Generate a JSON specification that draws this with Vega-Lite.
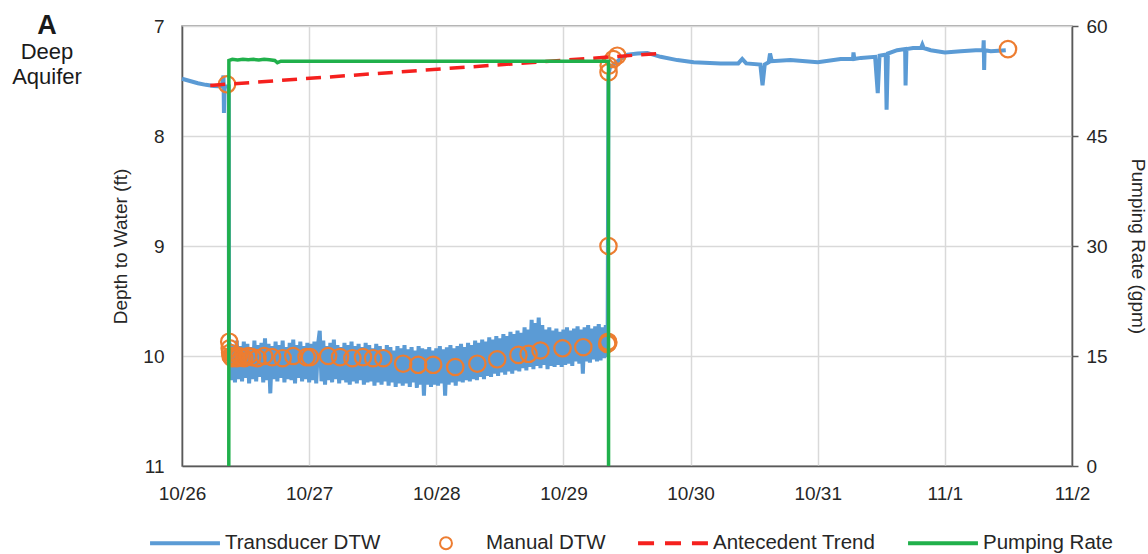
{
  "$schema": "https://vega.github.io/schema/vega-lite/v6.json",
  "width": 890,
  "height": 440,
  "autosize": "none",
  "padding": {"left": 182, "top": 26, "right": 76, "bottom": 88},
  "background": "white",
  "title": {
    "text": "A",
    "subtitle": ["Deep", "Aquifer"],
    "anchor": "start",
    "frame": "group",
    "align": "center",
    "dx": -135,
    "dy": 72,
    "offset": 0,
    "font": "Liberation Sans",
    "fontSize": 27,
    "fontWeight": "bold",
    "color": "#1a1a1a",
    "subtitleFont": "Liberation Sans",
    "subtitleFontSize": 22,
    "subtitleColor": "#1a1a1a",
    "subtitlePadding": 2,
    "subtitleLineHeight": 25
  },
  "layer": [
    {
      "layer": [
        {
          "data": {"values": [
            {"t": "2018-10-26T00:00", "d": 7.48},
            {"t": "2018-10-26T01:30", "d": 7.5},
            {"t": "2018-10-26T03:00", "d": 7.52},
            {"t": "2018-10-26T04:30", "d": 7.535},
            {"t": "2018-10-26T06:00", "d": 7.545},
            {"t": "2018-10-26T07:30", "d": 7.55},
            {"t": "2018-10-26T07:50", "d": 7.45},
            {"t": "2018-10-26T07:55", "d": 7.79},
            {"t": "2018-10-26T08:00", "d": 7.55},
            {"t": "2018-10-26T08:49", "d": 7.55},
            {"t": "2018-10-26T08:52", "d": 9.95},
            {"t": "2018-10-26T09:00", "d": 9.88},
            {"t": "2018-10-26T09:20", "d": 10.22},
            {"t": "2018-10-26T09:40", "d": 9.9},
            {"t": "2018-10-26T10:00", "d": 10.24},
            {"t": "2018-10-26T10:20", "d": 9.86},
            {"t": "2018-10-26T10:40", "d": 10.21},
            {"t": "2018-10-26T11:00", "d": 9.91},
            {"t": "2018-10-26T11:20", "d": 10.23},
            {"t": "2018-10-26T11:40", "d": 9.87},
            {"t": "2018-10-26T12:00", "d": 10.2},
            {"t": "2018-10-26T12:20", "d": 9.89},
            {"t": "2018-10-26T12:40", "d": 10.25},
            {"t": "2018-10-26T13:00", "d": 9.92},
            {"t": "2018-10-26T13:20", "d": 10.21},
            {"t": "2018-10-26T13:40", "d": 9.86},
            {"t": "2018-10-26T14:00", "d": 10.23},
            {"t": "2018-10-26T14:20", "d": 9.9},
            {"t": "2018-10-26T14:40", "d": 10.19},
            {"t": "2018-10-26T15:00", "d": 9.88},
            {"t": "2018-10-26T15:20", "d": 10.24},
            {"t": "2018-10-26T15:40", "d": 9.84},
            {"t": "2018-10-26T16:00", "d": 10.22},
            {"t": "2018-10-26T16:20", "d": 9.89},
            {"t": "2018-10-26T16:40", "d": 10.34},
            {"t": "2018-10-26T17:00", "d": 9.91},
            {"t": "2018-10-26T17:20", "d": 10.21},
            {"t": "2018-10-26T17:40", "d": 9.87},
            {"t": "2018-10-26T18:00", "d": 10.23},
            {"t": "2018-10-26T18:20", "d": 9.9},
            {"t": "2018-10-26T18:40", "d": 10.2},
            {"t": "2018-10-26T19:00", "d": 9.86},
            {"t": "2018-10-26T19:20", "d": 10.24},
            {"t": "2018-10-26T19:40", "d": 9.92},
            {"t": "2018-10-26T20:00", "d": 10.21},
            {"t": "2018-10-26T20:20", "d": 9.88},
            {"t": "2018-10-26T20:40", "d": 10.22},
            {"t": "2018-10-26T21:00", "d": 9.85},
            {"t": "2018-10-26T21:20", "d": 10.25},
            {"t": "2018-10-26T21:40", "d": 9.9},
            {"t": "2018-10-26T22:00", "d": 10.2},
            {"t": "2018-10-26T22:20", "d": 9.87},
            {"t": "2018-10-26T22:40", "d": 10.23},
            {"t": "2018-10-26T23:00", "d": 9.91},
            {"t": "2018-10-26T23:20", "d": 10.21},
            {"t": "2018-10-26T23:40", "d": 9.88},
            {"t": "2018-10-27T00:00", "d": 10.24},
            {"t": "2018-10-27T00:20", "d": 9.89},
            {"t": "2018-10-27T00:40", "d": 10.22},
            {"t": "2018-10-27T01:00", "d": 9.87},
            {"t": "2018-10-27T01:20", "d": 10.25},
            {"t": "2018-10-27T01:40", "d": 9.9},
            {"t": "2018-10-27T02:00", "d": 9.77},
            {"t": "2018-10-27T02:20", "d": 10.23},
            {"t": "2018-10-27T02:40", "d": 9.86},
            {"t": "2018-10-27T03:00", "d": 10.26},
            {"t": "2018-10-27T03:20", "d": 9.91},
            {"t": "2018-10-27T03:40", "d": 10.22},
            {"t": "2018-10-27T04:00", "d": 9.88},
            {"t": "2018-10-27T04:20", "d": 10.24},
            {"t": "2018-10-27T04:40", "d": 9.85},
            {"t": "2018-10-27T05:00", "d": 10.21},
            {"t": "2018-10-27T05:20", "d": 9.9},
            {"t": "2018-10-27T05:40", "d": 10.25},
            {"t": "2018-10-27T06:00", "d": 9.92},
            {"t": "2018-10-27T06:20", "d": 10.22},
            {"t": "2018-10-27T06:40", "d": 9.88},
            {"t": "2018-10-27T07:00", "d": 10.24},
            {"t": "2018-10-27T07:20", "d": 9.9},
            {"t": "2018-10-27T07:40", "d": 10.26},
            {"t": "2018-10-27T08:00", "d": 9.87},
            {"t": "2018-10-27T08:20", "d": 10.23},
            {"t": "2018-10-27T08:40", "d": 9.91},
            {"t": "2018-10-27T09:00", "d": 10.25},
            {"t": "2018-10-27T09:20", "d": 9.89},
            {"t": "2018-10-27T09:40", "d": 10.22},
            {"t": "2018-10-27T10:00", "d": 9.92},
            {"t": "2018-10-27T10:20", "d": 10.26},
            {"t": "2018-10-27T10:40", "d": 9.88},
            {"t": "2018-10-27T11:00", "d": 10.24},
            {"t": "2018-10-27T11:20", "d": 9.9},
            {"t": "2018-10-27T11:40", "d": 10.23},
            {"t": "2018-10-27T12:00", "d": 9.93},
            {"t": "2018-10-27T12:20", "d": 10.27},
            {"t": "2018-10-27T12:40", "d": 9.89},
            {"t": "2018-10-27T13:00", "d": 10.24},
            {"t": "2018-10-27T13:20", "d": 9.91},
            {"t": "2018-10-27T13:40", "d": 10.26},
            {"t": "2018-10-27T14:00", "d": 9.94},
            {"t": "2018-10-27T14:20", "d": 10.23},
            {"t": "2018-10-27T14:40", "d": 9.9},
            {"t": "2018-10-27T15:00", "d": 10.27},
            {"t": "2018-10-27T15:20", "d": 9.92},
            {"t": "2018-10-27T15:40", "d": 10.24},
            {"t": "2018-10-27T16:00", "d": 9.95},
            {"t": "2018-10-27T16:20", "d": 10.28},
            {"t": "2018-10-27T16:40", "d": 9.91},
            {"t": "2018-10-27T17:00", "d": 10.25},
            {"t": "2018-10-27T17:20", "d": 9.93},
            {"t": "2018-10-27T17:40", "d": 10.27},
            {"t": "2018-10-27T18:00", "d": 9.9},
            {"t": "2018-10-27T18:20", "d": 10.25},
            {"t": "2018-10-27T18:40", "d": 9.94},
            {"t": "2018-10-27T19:00", "d": 10.28},
            {"t": "2018-10-27T19:20", "d": 9.92},
            {"t": "2018-10-27T19:40", "d": 10.24},
            {"t": "2018-10-27T20:00", "d": 9.95},
            {"t": "2018-10-27T20:20", "d": 10.29},
            {"t": "2018-10-27T20:40", "d": 9.91},
            {"t": "2018-10-27T21:00", "d": 10.26},
            {"t": "2018-10-27T21:20", "d": 9.93},
            {"t": "2018-10-27T21:40", "d": 10.36},
            {"t": "2018-10-27T22:00", "d": 9.94},
            {"t": "2018-10-27T22:20", "d": 10.26},
            {"t": "2018-10-27T22:40", "d": 9.92},
            {"t": "2018-10-27T23:00", "d": 10.28},
            {"t": "2018-10-27T23:20", "d": 9.95},
            {"t": "2018-10-27T23:40", "d": 10.26},
            {"t": "2018-10-28T00:00", "d": 9.93},
            {"t": "2018-10-28T00:20", "d": 10.27},
            {"t": "2018-10-28T00:40", "d": 9.91},
            {"t": "2018-10-28T01:00", "d": 10.25},
            {"t": "2018-10-28T01:20", "d": 9.94},
            {"t": "2018-10-28T01:40", "d": 10.36},
            {"t": "2018-10-28T02:00", "d": 9.92},
            {"t": "2018-10-28T02:20", "d": 10.26},
            {"t": "2018-10-28T02:40", "d": 9.9},
            {"t": "2018-10-28T03:00", "d": 10.24},
            {"t": "2018-10-28T03:20", "d": 9.93},
            {"t": "2018-10-28T03:40", "d": 10.27},
            {"t": "2018-10-28T04:00", "d": 9.91},
            {"t": "2018-10-28T04:20", "d": 10.23},
            {"t": "2018-10-28T04:40", "d": 9.89},
            {"t": "2018-10-28T05:00", "d": 10.24},
            {"t": "2018-10-28T05:20", "d": 9.92},
            {"t": "2018-10-28T05:40", "d": 10.22},
            {"t": "2018-10-28T06:00", "d": 9.88},
            {"t": "2018-10-28T06:20", "d": 10.23},
            {"t": "2018-10-28T06:40", "d": 9.9},
            {"t": "2018-10-28T07:00", "d": 10.21},
            {"t": "2018-10-28T07:20", "d": 9.86},
            {"t": "2018-10-28T07:40", "d": 10.22},
            {"t": "2018-10-28T08:00", "d": 9.88},
            {"t": "2018-10-28T08:20", "d": 10.19},
            {"t": "2018-10-28T08:40", "d": 9.85},
            {"t": "2018-10-28T09:00", "d": 10.21},
            {"t": "2018-10-28T09:20", "d": 9.87},
            {"t": "2018-10-28T09:40", "d": 10.18},
            {"t": "2018-10-28T10:00", "d": 9.83},
            {"t": "2018-10-28T10:20", "d": 10.19},
            {"t": "2018-10-28T10:40", "d": 9.85},
            {"t": "2018-10-28T11:00", "d": 10.16},
            {"t": "2018-10-28T11:20", "d": 9.82},
            {"t": "2018-10-28T11:40", "d": 10.18},
            {"t": "2018-10-28T12:00", "d": 9.84},
            {"t": "2018-10-28T12:20", "d": 10.15},
            {"t": "2018-10-28T12:40", "d": 9.8},
            {"t": "2018-10-28T13:00", "d": 10.17},
            {"t": "2018-10-28T13:20", "d": 9.82},
            {"t": "2018-10-28T13:40", "d": 10.14},
            {"t": "2018-10-28T14:00", "d": 9.78},
            {"t": "2018-10-28T14:20", "d": 10.16},
            {"t": "2018-10-28T14:40", "d": 9.8},
            {"t": "2018-10-28T15:00", "d": 10.13},
            {"t": "2018-10-28T15:20", "d": 9.77},
            {"t": "2018-10-28T15:40", "d": 10.14},
            {"t": "2018-10-28T16:00", "d": 9.79},
            {"t": "2018-10-28T16:20", "d": 10.11},
            {"t": "2018-10-28T16:40", "d": 9.74},
            {"t": "2018-10-28T17:00", "d": 10.13},
            {"t": "2018-10-28T17:20", "d": 9.76},
            {"t": "2018-10-28T17:40", "d": 10.1},
            {"t": "2018-10-28T18:00", "d": 9.67},
            {"t": "2018-10-28T18:20", "d": 10.12},
            {"t": "2018-10-28T18:40", "d": 9.7},
            {"t": "2018-10-28T19:00", "d": 10.09},
            {"t": "2018-10-28T19:20", "d": 9.65},
            {"t": "2018-10-28T19:40", "d": 10.11},
            {"t": "2018-10-28T20:00", "d": 9.72},
            {"t": "2018-10-28T20:20", "d": 10.08},
            {"t": "2018-10-28T20:40", "d": 9.76},
            {"t": "2018-10-28T21:00", "d": 10.12},
            {"t": "2018-10-28T21:20", "d": 9.74},
            {"t": "2018-10-28T21:40", "d": 10.09},
            {"t": "2018-10-28T22:00", "d": 9.77},
            {"t": "2018-10-28T22:20", "d": 10.1},
            {"t": "2018-10-28T22:40", "d": 9.75},
            {"t": "2018-10-28T23:00", "d": 10.08},
            {"t": "2018-10-28T23:20", "d": 9.78},
            {"t": "2018-10-28T23:40", "d": 10.1},
            {"t": "2018-10-29T00:00", "d": 9.76},
            {"t": "2018-10-29T00:20", "d": 10.08},
            {"t": "2018-10-29T00:40", "d": 9.74},
            {"t": "2018-10-29T01:00", "d": 10.07},
            {"t": "2018-10-29T01:20", "d": 9.77},
            {"t": "2018-10-29T01:40", "d": 10.09},
            {"t": "2018-10-29T02:00", "d": 9.75},
            {"t": "2018-10-29T02:20", "d": 10.05},
            {"t": "2018-10-29T02:40", "d": 9.73},
            {"t": "2018-10-29T03:00", "d": 10.07},
            {"t": "2018-10-29T03:20", "d": 9.76},
            {"t": "2018-10-29T03:40", "d": 10.16},
            {"t": "2018-10-29T04:00", "d": 9.74},
            {"t": "2018-10-29T04:20", "d": 10.05},
            {"t": "2018-10-29T04:40", "d": 9.72},
            {"t": "2018-10-29T05:00", "d": 10.06},
            {"t": "2018-10-29T05:20", "d": 9.75},
            {"t": "2018-10-29T05:40", "d": 10.03},
            {"t": "2018-10-29T06:00", "d": 9.73},
            {"t": "2018-10-29T06:20", "d": 10.05},
            {"t": "2018-10-29T06:40", "d": 9.71},
            {"t": "2018-10-29T07:00", "d": 10.04},
            {"t": "2018-10-29T07:20", "d": 9.74},
            {"t": "2018-10-29T07:40", "d": 10.02},
            {"t": "2018-10-29T08:00", "d": 9.72},
            {"t": "2018-10-29T08:20", "d": 10.01},
            {"t": "2018-10-29T08:30", "d": 7.45},
            {"t": "2018-10-29T08:45", "d": 7.38},
            {"t": "2018-10-29T09:15", "d": 7.36},
            {"t": "2018-10-29T10:45", "d": 7.3},
            {"t": "2018-10-29T12:05", "d": 7.26},
            {"t": "2018-10-29T14:00", "d": 7.25},
            {"t": "2018-10-29T15:50", "d": 7.245},
            {"t": "2018-10-29T18:20", "d": 7.28},
            {"t": "2018-10-29T21:30", "d": 7.31},
            {"t": "2018-10-30T00:35", "d": 7.33},
            {"t": "2018-10-30T05:40", "d": 7.34},
            {"t": "2018-10-30T09:00", "d": 7.34},
            {"t": "2018-10-30T09:45", "d": 7.3},
            {"t": "2018-10-30T10:30", "d": 7.34},
            {"t": "2018-10-30T13:10", "d": 7.35},
            {"t": "2018-10-30T13:35", "d": 7.54},
            {"t": "2018-10-30T14:00", "d": 7.35},
            {"t": "2018-10-30T14:45", "d": 7.33},
            {"t": "2018-10-30T15:00", "d": 7.25},
            {"t": "2018-10-30T15:20", "d": 7.32},
            {"t": "2018-10-30T18:50", "d": 7.31},
            {"t": "2018-10-31T00:00", "d": 7.33},
            {"t": "2018-10-31T04:20", "d": 7.3},
            {"t": "2018-10-31T06:40", "d": 7.3},
            {"t": "2018-10-31T06:45", "d": 7.24},
            {"t": "2018-10-31T06:55", "d": 7.3},
            {"t": "2018-10-31T08:10", "d": 7.29},
            {"t": "2018-10-31T10:50", "d": 7.28},
            {"t": "2018-10-31T11:20", "d": 7.61},
            {"t": "2018-10-31T11:40", "d": 7.27},
            {"t": "2018-10-31T12:50", "d": 7.26},
            {"t": "2018-10-31T13:00", "d": 7.76},
            {"t": "2018-10-31T13:15", "d": 7.25},
            {"t": "2018-10-31T15:00", "d": 7.22},
            {"t": "2018-10-31T16:30", "d": 7.21},
            {"t": "2018-10-31T16:35", "d": 7.54},
            {"t": "2018-10-31T16:45", "d": 7.21},
            {"t": "2018-10-31T18:00", "d": 7.2},
            {"t": "2018-10-31T19:30", "d": 7.2},
            {"t": "2018-10-31T19:45", "d": 7.17},
            {"t": "2018-10-31T20:00", "d": 7.2},
            {"t": "2018-10-31T21:20", "d": 7.22},
            {"t": "2018-11-01T00:00", "d": 7.24},
            {"t": "2018-11-01T03:00", "d": 7.23},
            {"t": "2018-11-01T05:50", "d": 7.22},
            {"t": "2018-11-01T07:15", "d": 7.22},
            {"t": "2018-11-01T07:20", "d": 7.13},
            {"t": "2018-11-01T07:25", "d": 7.4},
            {"t": "2018-11-01T07:30", "d": 7.22},
            {"t": "2018-11-01T08:40", "d": 7.23},
            {"t": "2018-11-01T11:30", "d": 7.22}
          ]},
          "mark": {"type": "line", "strokeWidth": 4},
          "encoding": {
            "x": {
              "field": "t",
              "type": "temporal",
              "scale": {"domain": [{"year": 2018, "month": "oct", "date": 26}, {"year": 2018, "month": "nov", "date": 2}], "nice": false},
              "axis": {"title": null, "format": "%-m/%-d", "tickCount": {"interval": "day", "step": 1}, "ticks": false, "labelPadding": 18, "labelFlush": false, "labelOverlap": false, "grid": true}
            },
            "y": {
              "field": "d",
              "type": "quantitative",
              "scale": {"domain": [7, 11], "reverse": true, "nice": false, "zero": false},
              "axis": {"title": "Depth to Water (ft)", "values": [7, 8, 9, 10, 11], "format": "d", "ticks": false, "labelPadding": 18, "titlePadding": 12, "grid": true}
            },
            "color": {
              "datum": "Transducer DTW",
              "type": "nominal",
              "scale": {"domain": ["Transducer DTW", "Manual DTW", "Antecedent Trend", "Pumping Rate"], "range": ["#5b9bd5", "#ed7d31", "#f5201e", "#20b04b"]},
              "legend": {
                "orient": "none",
                "legendX": -33,
                "legendY": 481,
                "direction": "horizontal",
                "title": null,
                "padding": 0,
                "symbolSize": 4900,
                "symbolStrokeWidth": 2,
                "labelFontSize": 20.5,
                "labelFont": "Liberation Sans",
                "labelColor": "#262626",
                "labelLimit": 300,
                "columnPadding": 29,
                "encode": {
                  "symbols": {
                    "update": {
                      "shape": {"signal": "datum.value === 'Manual DTW' ? 'M0.17,0A0.17,0.17,0,1,1,-0.17,0A0.17,0.17,0,1,1,0.17,0Z' : datum.value === 'Antecedent Trend' ? 'M-0.97,-0.03L-0.57,-0.03L-0.57,0.03L-0.97,0.03ZM-0.2,-0.03L0.2,-0.03L0.2,0.03L-0.2,0.03ZM0.57,-0.03L0.97,-0.03L0.97,0.03L0.57,0.03Z' : 'M-0.97,-0.03L0.97,-0.03L0.97,0.03L-0.97,0.03Z'"},
                      "fill": {"signal": "datum.value === 'Transducer DTW' ? '#5b9bd5' : datum.value === 'Antecedent Trend' ? '#f5201e' : datum.value === 'Pumping Rate' ? '#20b04b' : 'transparent'"},
                      "stroke": {"signal": "datum.value === 'Transducer DTW' ? '#5b9bd5' : datum.value === 'Antecedent Trend' ? '#f5201e' : datum.value === 'Pumping Rate' ? '#20b04b' : '#ed7d31'"},
                      "opacity": {"value": 1}
                    }
                  }
                }
              }
            }
          }
        },
        {
          "data": {"values": [
            {"t": "2018-10-26T08:30", "d": 7.53},
            {"t": "2018-10-26T08:55", "d": 9.87},
            {"t": "2018-10-26T09:00", "d": 9.93},
            {"t": "2018-10-26T09:05", "d": 9.97},
            {"t": "2018-10-26T09:10", "d": 10.0},
            {"t": "2018-10-26T09:20", "d": 10.01},
            {"t": "2018-10-26T09:30", "d": 10.02},
            {"t": "2018-10-26T09:45", "d": 10.0},
            {"t": "2018-10-26T10:00", "d": 10.01},
            {"t": "2018-10-26T10:20", "d": 10.02},
            {"t": "2018-10-26T10:45", "d": 10.0},
            {"t": "2018-10-26T11:15", "d": 10.01},
            {"t": "2018-10-26T11:45", "d": 10.02},
            {"t": "2018-10-26T12:30", "d": 10.0},
            {"t": "2018-10-26T13:15", "d": 10.01},
            {"t": "2018-10-26T14:15", "d": 10.02},
            {"t": "2018-10-26T15:30", "d": 10.0},
            {"t": "2018-10-26T17:00", "d": 10.01},
            {"t": "2018-10-26T19:00", "d": 10.02},
            {"t": "2018-10-26T21:00", "d": 10.0},
            {"t": "2018-10-26T23:30", "d": 10.01},
            {"t": "2018-10-27T00:10", "d": 10.01},
            {"t": "2018-10-27T03:35", "d": 10.0},
            {"t": "2018-10-27T05:50", "d": 10.01},
            {"t": "2018-10-27T08:10", "d": 10.02},
            {"t": "2018-10-27T10:10", "d": 10.01},
            {"t": "2018-10-27T12:05", "d": 10.02},
            {"t": "2018-10-27T14:00", "d": 10.02},
            {"t": "2018-10-27T17:45", "d": 10.07},
            {"t": "2018-10-27T20:35", "d": 10.08},
            {"t": "2018-10-27T23:25", "d": 10.08},
            {"t": "2018-10-28T03:35", "d": 10.1},
            {"t": "2018-10-28T07:45", "d": 10.07},
            {"t": "2018-10-28T11:30", "d": 10.03},
            {"t": "2018-10-28T15:30", "d": 9.99},
            {"t": "2018-10-28T17:25", "d": 9.98},
            {"t": "2018-10-28T19:40", "d": 9.95},
            {"t": "2018-10-28T23:50", "d": 9.93},
            {"t": "2018-10-29T03:45", "d": 9.92},
            {"t": "2018-10-29T08:15", "d": 9.89},
            {"t": "2018-10-29T08:25", "d": 9.87},
            {"t": "2018-10-29T08:28", "d": 9.88},
            {"t": "2018-10-29T08:30", "d": 9.0},
            {"t": "2018-10-29T08:31", "d": 7.42},
            {"t": "2018-10-29T08:33", "d": 7.36},
            {"t": "2018-10-29T09:25", "d": 7.3},
            {"t": "2018-10-29T10:10", "d": 7.27},
            {"t": "2018-11-01T11:55", "d": 7.21}
          ]},
          "mark": {"type": "point", "shape": "circle", "filled": false, "size": 270, "strokeWidth": 2.2, "opacity": 1},
          "encoding": {
            "x": {"field": "t", "type": "temporal"},
            "y": {"field": "d", "type": "quantitative"},
            "color": {"datum": "Manual DTW", "type": "nominal"}
          }
        },
        {
          "data": {"values": [
            {"t": "2018-10-26T05:20", "d": 7.54},
            {"t": "2018-10-29T17:57", "d": 7.25}
          ]},
          "mark": {"type": "line", "strokeWidth": 3.5, "strokeDash": [15, 9]},
          "encoding": {
            "x": {"field": "t", "type": "temporal"},
            "y": {"field": "d", "type": "quantitative"},
            "color": {"datum": "Antecedent Trend", "type": "nominal"}
          }
        }
      ]
    },
    {
      "data": {"values": [
        {"t": "2018-10-26T08:50", "r": 0},
        {"t": "2018-10-26T08:51", "r": 55.3},
        {"t": "2018-10-26T09:30", "r": 55.45},
        {"t": "2018-10-26T10:30", "r": 55.35},
        {"t": "2018-10-26T11:30", "r": 55.45},
        {"t": "2018-10-26T12:30", "r": 55.4},
        {"t": "2018-10-26T13:30", "r": 55.45},
        {"t": "2018-10-26T14:30", "r": 55.35},
        {"t": "2018-10-26T15:30", "r": 55.45},
        {"t": "2018-10-26T16:30", "r": 55.4},
        {"t": "2018-10-26T17:30", "r": 55.3},
        {"t": "2018-10-26T18:00", "r": 55.0},
        {"t": "2018-10-26T18:40", "r": 55.2},
        {"t": "2018-10-29T08:30", "r": 55.2},
        {"t": "2018-10-29T08:31", "r": 0}
      ]},
      "mark": {"type": "line", "strokeWidth": 3.5},
      "encoding": {
        "x": {"field": "t", "type": "temporal"},
        "y": {
          "field": "r",
          "type": "quantitative",
          "scale": {"domain": [0, 60], "nice": false},
          "axis": {"orient": "right", "title": "Pumping Rate (gpm)", "values": [0, 15, 30, 45, 60], "grid": false, "ticks": true, "tickSize": 6, "labelPadding": 8, "titlePadding": 20}
        },
        "color": {"datum": "Pumping Rate", "type": "nominal"}
      }
    }
  ],
  "resolve": {"scale": {"y": "independent"}},
  "config": {
    "font": "Liberation Sans",
    "view": {"stroke": "#8c8c8c", "strokeWidth": 1.5},
    "axis": {
      "labelFont": "Liberation Sans",
      "titleFont": "Liberation Sans",
      "labelFontSize": 19,
      "titleFontSize": 19,
      "titleFontWeight": "normal",
      "labelColor": "#262626",
      "titleColor": "#262626",
      "gridColor": "#d9d9d9",
      "gridWidth": 1.5,
      "domainColor": "#595959",
      "domainWidth": 1.5,
      "tickColor": "#595959",
      "tickWidth": 1.5
    }
  }
}
